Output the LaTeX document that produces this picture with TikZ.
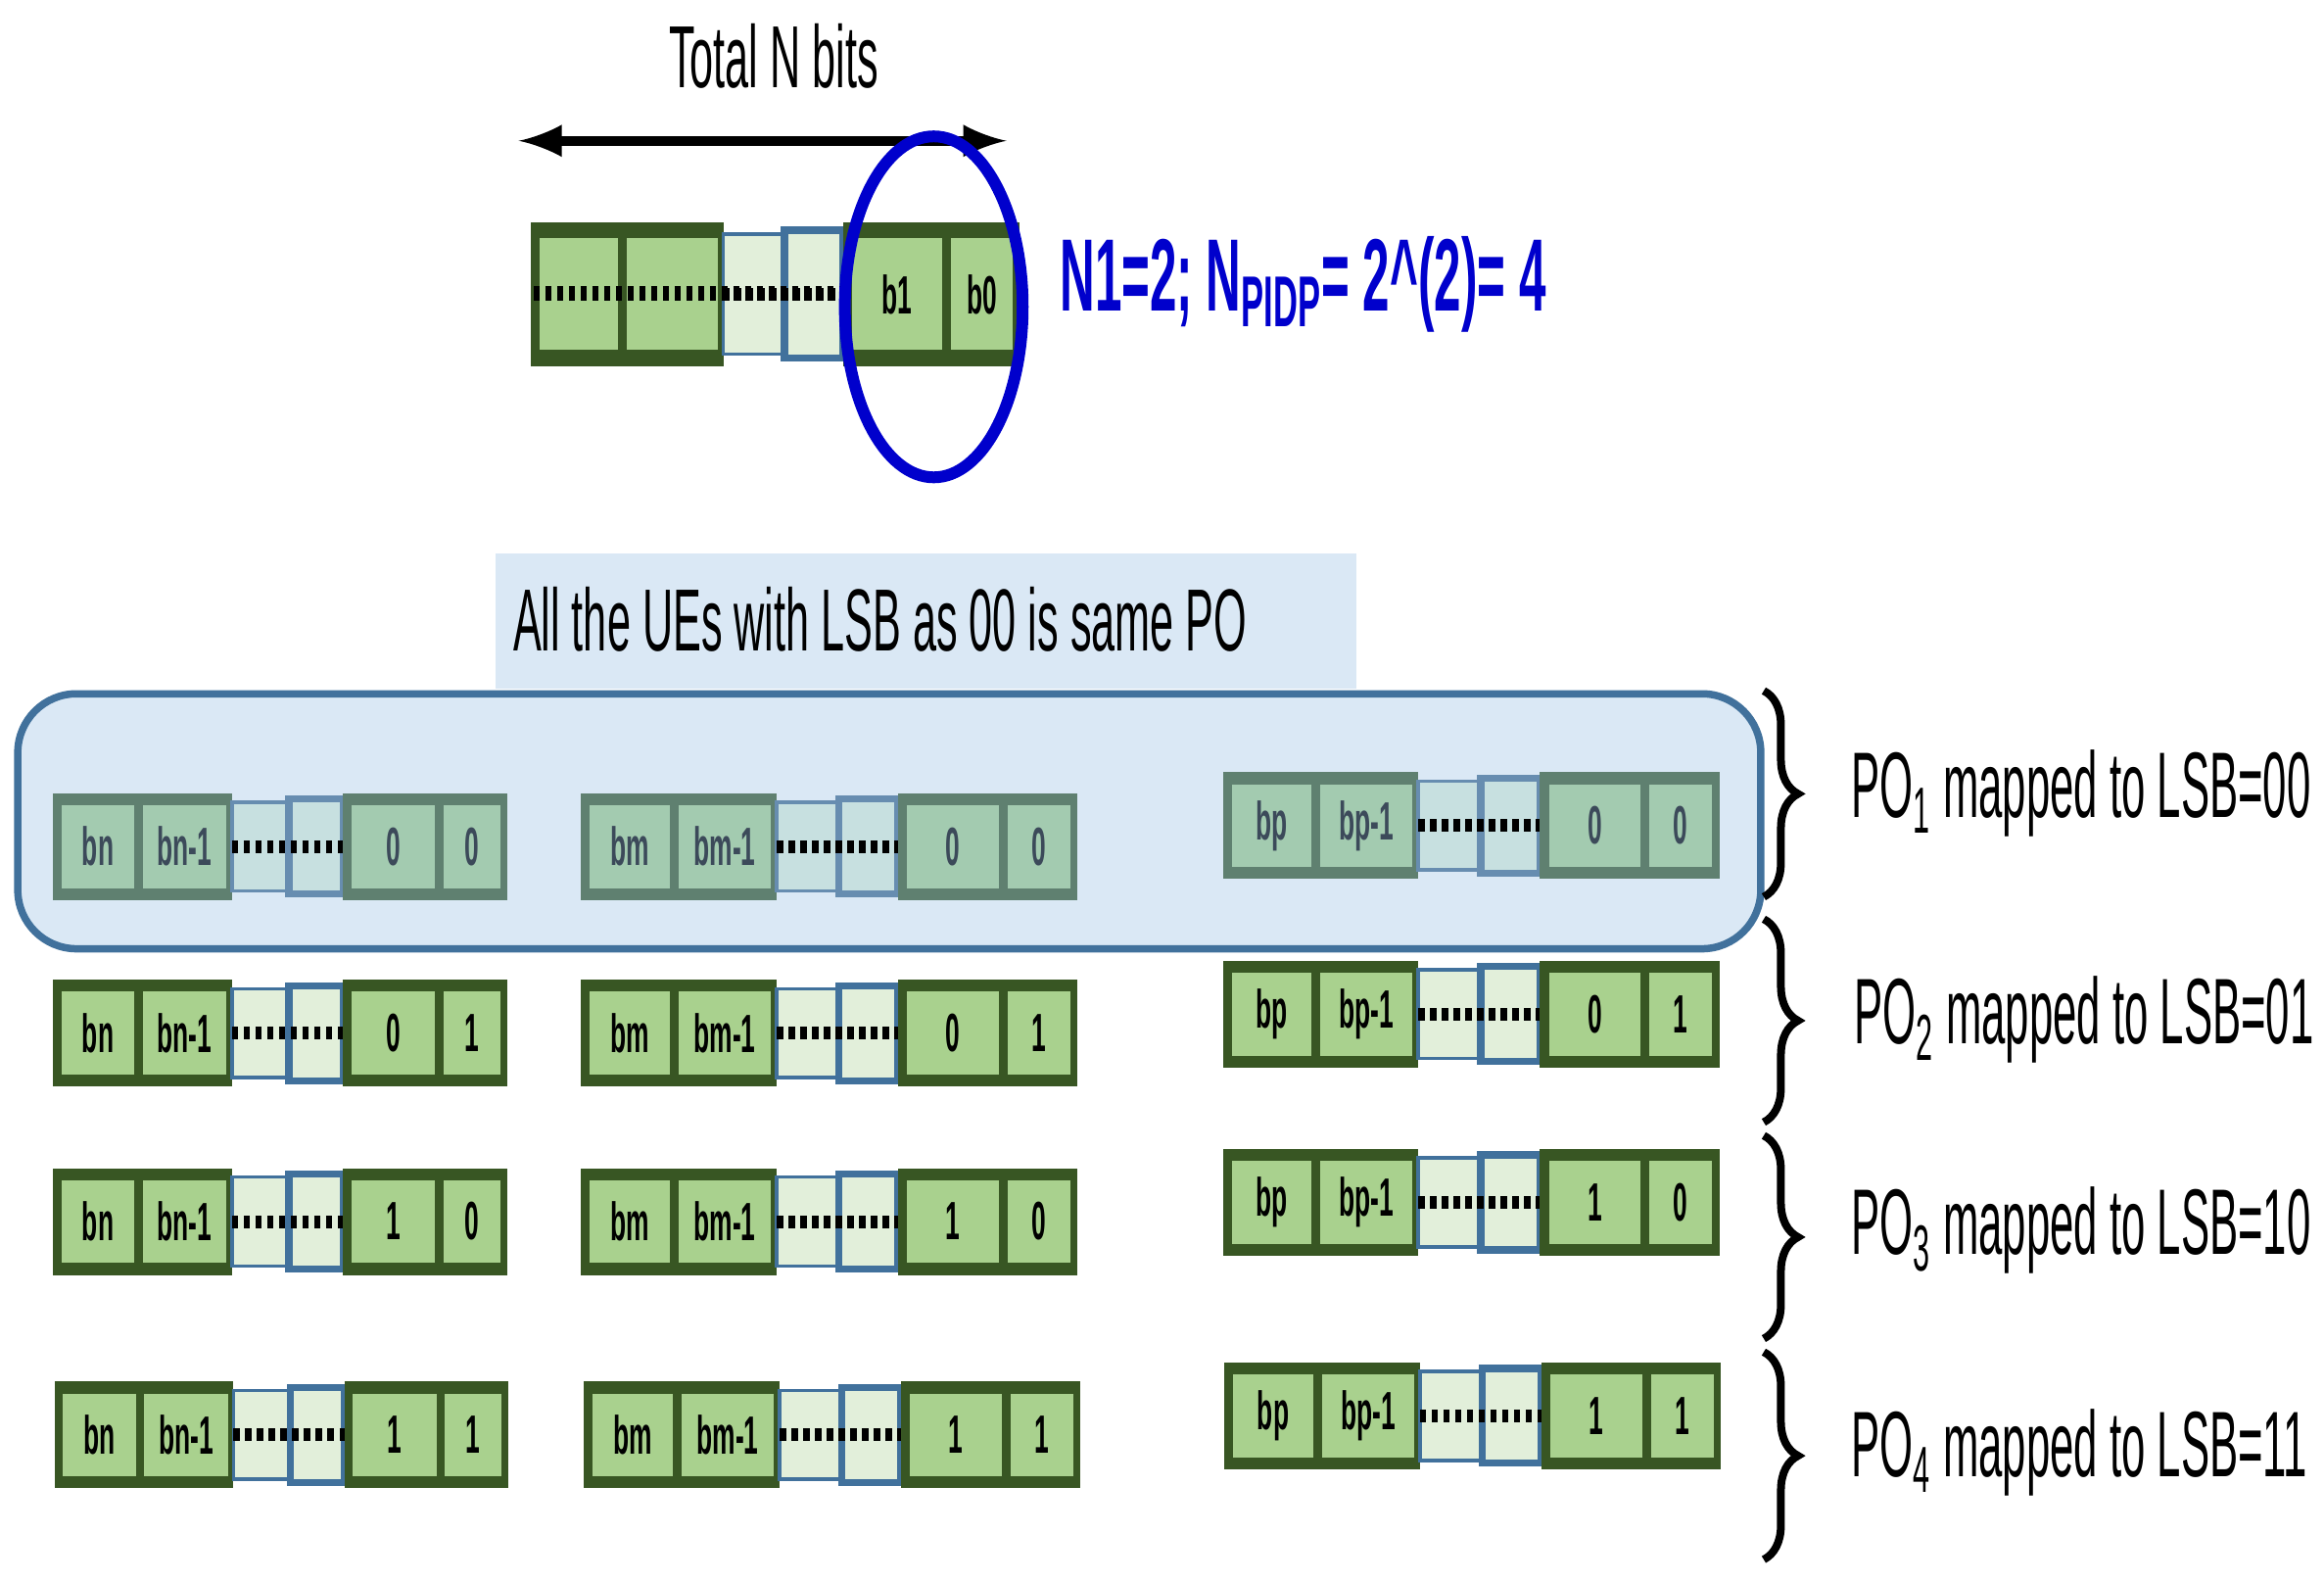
\documentclass[tikz,border=0pt]{standalone}
\usepackage{fontspec}
\setmainfont{Liberation Sans}
\usetikzlibrary{decorations.pathreplacing}
\definecolor{dkgreen}{RGB}{56,86,35}
\definecolor{ltgreen}{RGB}{169,209,142}
\definecolor{pale}{RGB}{226,239,218}
\definecolor{edgeblue}{RGB}{65,113,156}
\definecolor{fdark}{RGB}{95,128,112}
\definecolor{flight}{RGB}{163,203,176}
\definecolor{fpale}{RGB}{199,224,224}
\definecolor{ftext}{RGB}{60,74,90}
\definecolor{poblue}{RGB}{218,232,245}
\definecolor{labblue}{RGB}{0,0,204}
\newcommand\narrow[2][0.48]{\scalebox{#1}[1]{#2}}
\tikzset{every picture/.style={line width=0.75pt},
  outer/.style={fill=dkgreen, draw=none},
  cell/.style={fill=ltgreen, draw=none},
  gap/.style={fill=pale, draw=edgeblue},
  bitlab/.style={font=\fontsize{11}{11}\selectfont\bfseries, text=black, inner sep=0pt},
  dots/.style={line width=2.6pt, dash pattern=on 1.3pt off 1.1pt},
  side/.style={font=\fontsize{19}{19}\selectfont, anchor=west, inner sep=0pt},
  brace/.style={decorate, decoration={brace, amplitude=7pt}, line width=1.6pt}}
% bit string: name, x, y, width, height, four labels
\newcommand\bitstr[9]{%
\begin{scope}[shift={(#2,#3)}, xscale=#4/335, yscale=#5/72]
\fill[outer] (0,0) rectangle (132,72);
\fill[cell] (6,8) rectangle (60,64);
\fill[cell] (66,8) rectangle (128,64);
\draw[gap] (132,6) rectangle (174,66);
\draw[gap, line width=1.5pt] (174,4) rectangle (214,68);
\fill[outer] (214,0) rectangle (335,72);
\fill[cell] (220,8) rectangle (282,64);
\fill[cell] (288,8) rectangle (330,64);
\draw[dots] (132,36) -- (214,36);
\node[bitlab] (#1-a) at (33,36) {\narrow{#6}};
\node[bitlab] (#1-b) at (97,36) {\narrow{#7}};
\node[bitlab] (#1-c) at (251,36) {\narrow{#8}};
\node[bitlab] (#1-d) at (309,36) {\narrow{#9}};
\end{scope}}

\begin{document}
\begin{tikzpicture}[x=0.3026pt,y=0.3026pt,yscale=-1]
\useasboundingbox (0,0) rectangle (1568,1067);

% top string
\node[font=\fontsize{18}{18}\selectfont] (total) at (522,38) {\narrow{Total N bits}};
\coordinate (arrL) at (350,95);
\coordinate (arrR) at (679,95);
\draw[line width=2pt, latex-latex] (arrL) -- (arrR);
\bitstr{top}{358}{150}{330}{97}{}{}{b1}{b0}
\draw[dots, line width=3pt] (360,198) -- (570,198);
\draw[labblue, line width=2.4pt] (630,207) ellipse [x radius=60, y radius=115];
\node[anchor=west, inner sep=0pt, text=labblue, font=\fontsize{21}{21}\selectfont\bfseries] (npidp) at (714,192)
  {\narrow[0.47]{N1=2; N\textsubscript{PIDP}= 2\^{}(2)= 4}};

% PO1 group
\node[fill=poblue, minimum width=581*0.3026pt, minimum height=91*0.3026pt, anchor=north west, inner sep=0pt] (note) at (333,372) {};
\node[anchor=west, font=\fontsize{18}{18}\selectfont, inner sep=0pt] (notetext) at (345,418) {\narrow{All the UEs with LSB as 00 is same PO}};
\draw[edgeblue, fill=poblue, line width=1.5pt, rounded corners=12pt] (12,468) rectangle (1188,640);

\begin{scope}[outer/.style={fill=fdark}, cell/.style={fill=flight},
  gap/.style={fill=fpale, draw=edgeblue!80}, bitlab/.append style={text=ftext}]
\bitstr{ra1}{36}{535}{306}{72}{bn}{bn-1}{0}{0}
\bitstr{rb1}{392}{535}{335}{72}{bm}{bm-1}{0}{0}
\bitstr{rc1}{825}{521}{335}{72}{bp}{bp-1}{0}{0}
\end{scope}

\bitstr{ra2}{36}{661}{306}{72}{bn}{bn-1}{0}{1}
\bitstr{rb2}{392}{661}{335}{72}{bm}{bm-1}{0}{1}
\bitstr{rc2}{825}{648}{335}{72}{bp}{bp-1}{0}{1}
\bitstr{ra3}{36}{788}{306}{72}{bn}{bn-1}{1}{0}
\bitstr{rb3}{392}{788}{335}{72}{bm}{bm-1}{1}{0}
\bitstr{rc3}{825}{775}{335}{72}{bp}{bp-1}{1}{0}
\bitstr{ra4}{37}{932}{306}{72}{bn}{bn-1}{1}{1}
\bitstr{rb4}{394}{932}{335}{72}{bm}{bm-1}{1}{1}
\bitstr{rc4}{826}{919}{335}{72}{bp}{bp-1}{1}{1}

% braces and labels
\coordinate (b1t) at (1190,466); \coordinate (b1b) at (1190,605);
\coordinate (b2t) at (1190,620); \coordinate (b2b) at (1190,757);
\coordinate (b3t) at (1190,766); \coordinate (b3b) at (1190,903);
\coordinate (b4t) at (1190,912); \coordinate (b4b) at (1190,1052);
\draw[brace] (b1t) -- (b1b);
\draw[brace] (b2t) -- (b2b);
\draw[brace] (b3t) -- (b3b);
\draw[brace] (b4t) -- (b4b);
\node[side] (po1) at (1248,535) {\narrow[0.46]{PO\textsubscript{1} mapped to LSB=00}};
\node[side] (po2) at (1250,688) {\narrow[0.46]{PO\textsubscript{2} mapped to LSB=01}};
\node[side] (po3) at (1248,830) {\narrow[0.46]{PO\textsubscript{3} mapped to LSB=10}};
\node[side] (po4) at (1248,980) {\narrow[0.46]{PO\textsubscript{4} mapped to LSB=11}};
\end{tikzpicture}
\end{document}
